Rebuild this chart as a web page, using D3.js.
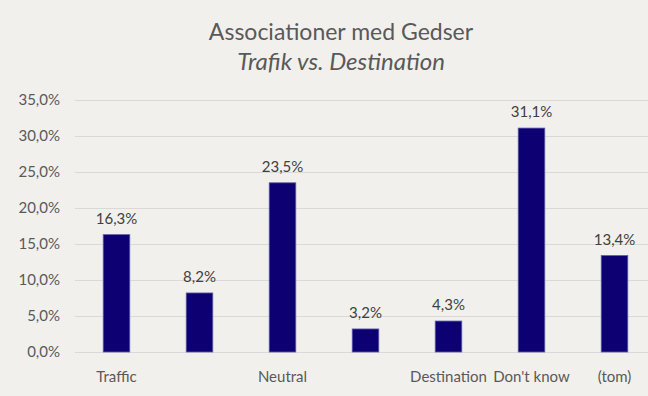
<!DOCTYPE html>
<html>
<head>
<meta charset="utf-8">
<script src="https://cdn.jsdelivr.net/npm/d3@7"></script>
<style>
  body { margin: 0; background: #f2f0ed; }
  svg { display: block; font-family: Lato, "Open Sans", sans-serif; }
</style>
</head>
<body>
<div id="chart"></div>
<script>
const categories = ['Traffic', 'c2', 'Neutral', 'c4', 'Destination', "Don't know", '(tom)'];
const tickLabels = ['Traffic', '', 'Neutral', '', 'Destination', "Don't know", '(tom)'];
const values = [16.3, 8.2, 23.5, 3.2, 4.3, 31.1, 13.4];
const yTicks = [0, 5, 10, 15, 20, 25, 30, 35];

const width = 648, height = 396;
const fmt = (v) => v.toFixed(1).replace('.', ',') + '%';

const svg = d3.select('#chart')
    .append('svg')
    .attr('width', width)
    .attr('height', height);

svg.append('rect')
    .attr('width', width)
    .attr('height', height)
    .attr('fill', '#f2f0ed');

const x = d3.scaleBand()
    .domain(categories)
    .range([75, 656])
    .paddingInner(0.68)
    .paddingOuter(0.34);

const y = d3.scaleLinear()
    .domain([0, 35])
    .range([352, 100]);

// gridlines
svg.append('g')
    .selectAll('line')
    .data(yTicks)
    .enter().append('line')
    .attr('x1', 75)
    .attr('x2', width)
    .attr('y1', (d) => y(d) + 0.5)
    .attr('y2', (d) => y(d) + 0.5)
    .attr('stroke', '#d9d9d9')
    .attr('stroke-width', 1);

// y axis labels
const yAxis = svg.append('g')
    .attr('transform', 'translate(60,0)')
    .call(d3.axisLeft(y).tickValues(yTicks).tickSize(0).tickFormat(fmt));
yAxis.select('.domain').remove();
yAxis.selectAll('text')
    .attr('x', 0)
    .attr('fill', '#595959')
    .attr('font-size', 15)
    .attr('font-family', 'Lato, sans-serif');

// bars
svg.append('g')
    .selectAll('rect')
    .data(values)
    .enter().append('rect')
    .attr('x', (d, i) => x(categories[i]))
    .attr('y', (d) => y(d))
    .attr('width', x.bandwidth())
    .attr('height', (d) => y(0) - y(d))
    .attr('fill', '#0d0073')
    .attr('stroke', '#5c5ca8')
    .attr('stroke-width', 0.8);

// value labels
svg.append('g')
    .selectAll('text')
    .data(values)
    .enter().append('text')
    .attr('x', (d, i) => x(categories[i]) + x.bandwidth() / 2)
    .attr('y', (d) => y(d) - 11)
    .attr('text-anchor', 'middle')
    .attr('fill', '#404040')
    .attr('font-size', 15)
    .text(fmt);

// x axis
const xAxis = svg.append('g')
    .attr('transform', 'translate(0,352)')
    .call(d3.axisBottom(x).tickSize(0).tickFormat((d, i) => tickLabels[i]));
xAxis.select('.domain').remove();
xAxis.selectAll('text')
    .attr('y', 30)
    .attr('dy', 0)
    .attr('fill', '#595959')
    .attr('font-size', 15)
    .attr('font-family', 'Lato, sans-serif');

// title
svg.append('text')
    .attr('x', 341)
    .attr('y', 40)
    .attr('text-anchor', 'middle')
    .attr('fill', '#595959')
    .attr('font-size', 23)
    .text('Associationer med Gedser');

svg.append('text')
    .attr('x', 341)
    .attr('y', 70)
    .attr('text-anchor', 'middle')
    .attr('fill', '#595959')
    .attr('font-size', 24)
    .attr('font-style', 'italic')
    .text('Trafik vs. Destination');
</script>
</body>
</html>
